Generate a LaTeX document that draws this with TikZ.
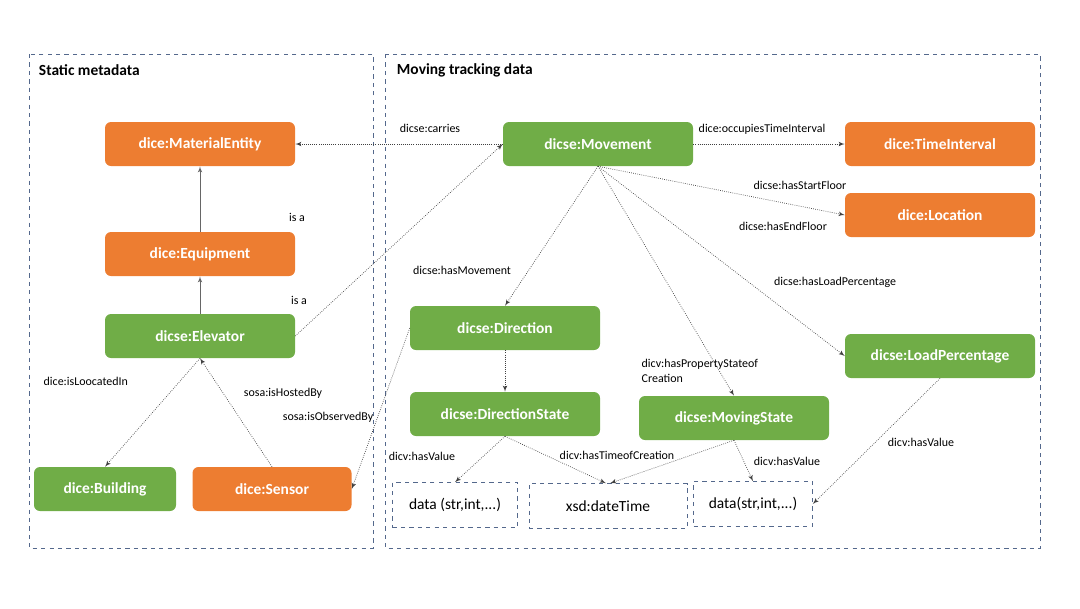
\documentclass[tikz,border=0pt]{standalone}
\usepackage{fontspec}
\setmainfont{Carlito}
\usepackage{tikz}
\usetikzlibrary{arrows}
\tikzset{>=latex'}
\definecolor{boxorange}{RGB}{237,125,49}
\definecolor{boxgreen}{RGB}{112,173,71}
\definecolor{panelblue}{RGB}{84,104,140}
\tikzset{
	classorange/.style={draw=none,fill=boxorange,text=white,font=\fontsize{11}{13}\selectfont\bfseries,rounded corners=1.5mm,minimum width=4.75cm,minimum height=1.1cm},
	classgreen/.style={draw=none,fill=boxgreen,text=white,font=\fontsize{11}{13}\selectfont\bfseries,rounded corners=1.5mm,minimum width=4.75cm,minimum height=1.1cm},
	literal/.style={draw=panelblue,dashed,font=\fontsize{11}{13}\selectfont,minimum height=1.125cm},
	panel/.style={draw=panelblue,dashed},
	rel/.style={->,densely dotted,line width=0.5pt,draw=black!75},
	isa/.style={->,line width=0.5pt,draw=black!60},
	lbl/.style={font=\fontsize{8.5}{10.5}\selectfont,inner sep=1pt}
}

\begin{document}
\begin{tikzpicture}
	\useasboundingbox (0,0) rectangle (27,-15.2);
	% panels
	\draw[panel] (0.725,-1.35) rectangle (9.325,-13.7);
	\draw[panel] (9.625,-1.35) rectangle (26.0,-13.7);
	\node[anchor=west,font=\fontsize{11}{13}\selectfont\bfseries] (titlestatic) at (0.85,-1.75) {Static metadata};
	\node[anchor=west,font=\fontsize{11}{13}\selectfont\bfseries] (titlemoving) at (9.8,-1.75) {Moving tracking data};
	% static metadata
	\node[classorange] (materialentity) at (5.0,-3.6) {dice:MaterialEntity};
	\node[classorange] (equipment) at (5.0,-6.35) {dice:Equipment};
	\node[classgreen] (elevator) at (5.0,-8.4) {dicse:Elevator};
	\node[classgreen,minimum width=3.55cm] (building) at (2.625,-12.225) {dice:Building};
	\node[classorange,minimum width=3.975cm] (sensor) at (6.8,-12.225) {dice:Sensor};
	% moving tracking data
	\node[classgreen] (movement) at (14.95,-3.6) {dicse:Movement};
	\node[classorange] (timeinterval) at (23.5,-3.6) {dice:TimeInterval};
	\node[classorange] (location) at (23.5,-5.375) {dice:Location};
	\node[classgreen] (direction) at (12.625,-8.2) {dicse:Direction};
	\node[classgreen] (directionstate) at (12.625,-10.35) {dicse:DirectionState};
	\node[classgreen] (movingstate) at (18.35,-10.45) {dicse:MovingState};
	\node[classgreen] (loadpercentage) at (23.5,-8.9) {dicse:LoadPercentage};
	\node[literal,minimum width=3.125cm] (datadirection) at (11.375,-12.625) {data (str,int,...)};
	\node[literal,minimum width=3.95cm] (datetime) at (15.2,-12.65) {xsd:dateTime};
	\node[literal,minimum width=2.975cm] (datamoving) at (18.825,-12.6) {data(str,int,...)};
	% connectors
	\draw[isa] (equipment)--(materialentity);
	\draw[isa] (elevator)--(equipment);
	\draw[rel] (movement)--(materialentity);
	\draw[rel] (elevator.east)--(movement.west);
	\draw[rel] (elevator.south)--(building.north);
	\draw[rel] (sensor.north)--(elevator.south);
	\draw[rel] (direction.west)--(sensor.east);
	\draw[rel] (movement)--(timeinterval);
	\draw[rel] (movement.south)--(location.west);
	\draw[rel] (movement.south)--(direction.north);
	\draw[rel] (movement.south)--(movingstate.north);
	\draw[rel] (movement.south)--(loadpercentage.west);
	\draw[rel] (direction)--(directionstate);
	\draw[rel] (directionstate.south)--(datadirection.north);
	\draw[rel] (directionstate.south)--([xshift=-1.5pt]datetime.north);
	\draw[rel] (movingstate.south)--([xshift=1.5pt]datetime.north);
	\draw[rel] (movingstate.south)--(datamoving.north);
	\draw[rel] (loadpercentage.south)--(datamoving.east);
	% labels
	\node[lbl] (isaone) at (7.425,-5.425) {is a};
	\node[lbl] (isatwo) at (7.475,-7.5) {is a};
	\node[lbl] (carries) at (10.75,-3.2) {dicse:carries};
	\node[lbl] (occupies) at (19.05,-3.225) {dice:occupiesTimeInterval};
	\node[lbl] (startfloor) at (20.0,-4.625) {dicse:hasStartFloor};
	\node[lbl] (endfloor) at (19.575,-5.65) {dicse:hasEndFloor};
	\node[lbl] (hasmovement) at (11.55,-6.75) {dicse:hasMovement};
	\node[lbl] (hasload) at (20.875,-7.05) {dicse:hasLoadPercentage};
	\node[lbl,anchor=west,align=left] (propertystate) at (16.0,-9.28) {dicv:hasPropertyStateof\\Creation};
	\node[lbl,anchor=west] (locatedin) at (1.05,-9.525) {dice:isLoocatedIn};
	\node[lbl] (hostedby) at (7.075,-9.825) {sosa:isHostedBy};
	\node[lbl] (observedby) at (8.2,-10.425) {sosa:isObservedBy};
	\node[lbl] (valuedirection) at (10.55,-11.4) {dicv:hasValue};
	\node[lbl] (timeofcreation) at (15.425,-11.375) {dicv:hasTimeofCreation};
	\node[lbl] (valuemoving) at (19.675,-11.525) {dicv:hasValue};
	\node[lbl] (valueload) at (23.025,-11.05) {dicv:hasValue};
\end{tikzpicture}
\end{document}
